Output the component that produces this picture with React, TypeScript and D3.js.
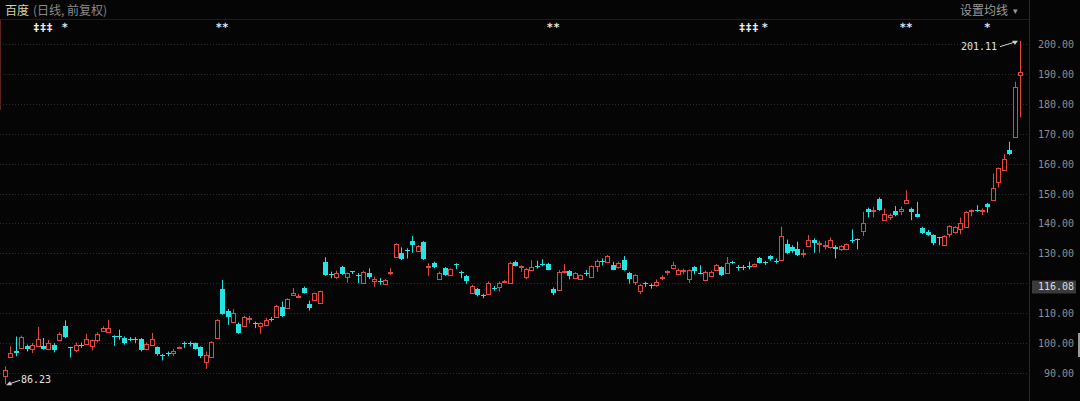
import React from 'react';
import * as d3 from 'd3';

// daily candles (前复权), oldest first
const opens = [
  89.1, 95.2, 97.5, 98.4, 99.0, 98.0, 98.9, 99.1, 98.0, 99.5, 100.9, 105.6, 98.6, 97.8, 99.4, 99.8, 99.1, 101.1, 104.1, 103.7,
  102.4, 102.3, 101.7, 101.5, 101.4, 101.4, 98.0, 99.5, 98.7, 95.9, 96.7, 96.6, 98.4, 100.0, 100.0, 100.0, 98.7, 93.6, 95.4, 101.7,
  118.0, 110.6, 107.1, 106.4, 105.8, 108.2, 106.6, 105.6, 106.0, 108.2, 108.7, 112.0, 111.8, 116.1, 115.8, 118.4, 113.1, 114.5, 113.4, 127.2,
  123.2, 122.2, 125.4, 122.2, 124.0, 122.6, 120.0, 123.4, 120.9, 120.7, 119.8, 123.4, 128.7, 130.0, 131.1, 134.2, 130.9, 133.9, 125.3, 126.9,
  121.4, 125.0, 122.8, 126.3, 123.8, 122.5, 116.7, 118.0, 116.0, 116.5, 118.5, 118.7, 120.5, 120.2, 127.2, 125.5, 122.2, 124.6, 125.7, 126.4,
  126.6, 118.2, 117.9, 123.8, 124.1, 121.6, 121.4, 123.6, 122.1, 125.7, 127.6, 127.2, 126.0, 125.3, 127.7, 123.5, 120.5, 117.5, 120.0, 119.5,
  119.3, 121.8, 123.8, 125.0, 123.0, 124.4, 121.3, 125.3, 123.6, 121.2, 122.4, 124.6, 125.5, 123.5, 127.0, 125.3, 125.3, 125.8, 125.7, 128.6,
  127.0, 129.1, 127.6, 127.7, 133.1, 132.2, 131.6, 129.7, 132.4, 134.4, 133.3, 132.6, 132.0, 132.2, 131.3, 131.3, 134.6, 134.8, 137.5, 145.0,
  144.2, 148.3, 141.1, 142.0, 144.2, 144.2, 146.7, 145.0, 143.3, 138.6, 137.2, 136.1, 135.5, 132.7, 136.4, 137.2, 138.0, 138.9, 144.2, 144.6,
  144.1, 146.6, 147.8, 153.9, 157.8, 164.7, 169.0, 189.8,
];
const highs = [
  92.2, 98.9, 102.2, 102.5, 99.5, 100.0, 105.4, 101.7, 101.1, 100.0, 103.6, 107.6, 98.8, 100.2, 100.2, 103.1, 101.2, 103.6, 105.6, 107.8,
  102.6, 104.5, 102.2, 102.0, 102.0, 101.7, 100.2, 103.4, 98.9, 96.4, 97.2, 98.0, 98.9, 100.5, 100.5, 100.2, 98.9, 97.2, 100.6, 108.0,
  121.1, 111.4, 111.4, 106.9, 109.1, 109.1, 107.2, 106.9, 108.4, 108.7, 112.8, 113.9, 115.0, 118.4, 116.5, 118.9, 114.2, 116.9, 117.5, 128.7,
  123.9, 124.2, 125.8, 123.6, 124.0, 123.4, 124.2, 125.0, 122.2, 121.7, 121.4, 125.0, 133.4, 132.0, 131.7, 135.8, 132.8, 134.1, 126.7, 127.2,
  123.9, 125.4, 125.0, 126.7, 124.2, 122.8, 119.5, 118.4, 116.5, 120.6, 119.1, 120.6, 121.1, 127.2, 127.6, 126.0, 125.2, 127.7, 127.5, 128.0,
  126.8, 118.6, 124.4, 126.4, 124.4, 123.7, 122.9, 124.4, 126.0, 127.9, 128.3, 129.4, 127.2, 127.2, 129.1, 123.8, 123.0, 119.7, 120.5, 119.9,
  121.3, 122.7, 124.4, 127.2, 124.9, 124.9, 124.6, 125.7, 126.0, 124.2, 124.2, 126.4, 125.7, 128.8, 127.5, 126.1, 126.1, 127.2, 126.6, 128.8,
  127.5, 129.4, 128.3, 138.9, 134.6, 132.7, 133.9, 131.3, 136.1, 135.0, 134.2, 134.2, 135.3, 132.7, 132.7, 133.3, 138.0, 135.0, 143.9, 145.3,
  145.6, 148.7, 145.0, 143.3, 145.8, 145.6, 151.1, 145.3, 147.2, 138.9, 137.8, 136.4, 135.5, 136.1, 139.4, 139.1, 142.0, 144.2, 144.7, 146.1,
  145.0, 146.9, 156.7, 158.7, 163.2, 167.3, 187.4, 201.11,
];
const lows = [
  86.23, 95.0, 95.6, 98.0, 97.2, 96.7, 98.7, 97.8, 97.6, 96.9, 100.7, 101.7, 95.2, 96.9, 98.4, 99.5, 97.6, 100.2, 103.8, 103.6,
  99.1, 101.1, 99.5, 100.6, 100.0, 97.2, 97.6, 99.1, 95.8, 94.2, 95.6, 95.6, 98.2, 98.4, 98.9, 97.8, 95.0, 91.4, 95.1, 101.6,
  109.5, 106.1, 106.7, 103.1, 105.6, 106.5, 105.0, 103.1, 105.6, 107.2, 108.4, 108.7, 111.6, 115.8, 115.0, 116.5, 110.9, 114.2, 113.1, 122.5,
  121.7, 121.4, 122.8, 120.2, 123.1, 120.0, 119.8, 121.4, 118.9, 119.5, 119.5, 122.8, 128.5, 127.8, 128.3, 130.2, 130.6, 127.8, 122.5, 125.0,
  121.1, 122.5, 122.5, 124.7, 121.7, 119.8, 116.5, 115.6, 115.0, 116.1, 117.5, 117.2, 120.0, 120.0, 125.6, 123.8, 121.3, 124.4, 124.9, 125.7,
  124.4, 116.0, 117.7, 123.3, 121.3, 121.4, 121.3, 122.4, 121.9, 123.8, 126.0, 126.8, 124.4, 124.9, 124.2, 119.9, 119.4, 116.4, 118.8, 118.2,
  118.8, 121.0, 122.7, 124.6, 122.7, 123.0, 120.1, 123.0, 123.0, 121.0, 122.2, 124.4, 122.4, 123.3, 126.4, 124.2, 124.4, 124.6, 125.5, 126.6,
  126.1, 127.5, 126.6, 127.5, 129.7, 130.2, 129.1, 128.6, 132.2, 130.2, 130.2, 131.3, 131.6, 128.3, 130.8, 131.1, 133.5, 131.3, 135.8, 142.0,
  142.0, 144.2, 140.9, 141.1, 142.4, 142.8, 146.5, 141.1, 142.0, 136.4, 135.8, 132.7, 132.7, 132.4, 135.3, 136.6, 136.4, 138.7, 142.4, 143.9,
  142.8, 143.6, 147.6, 152.0, 157.6, 162.8, 168.8, 175.5,
];
const closes = [
  91.1, 96.7, 96.8, 102.2, 98.1, 99.5, 101.4, 98.0, 100.0, 97.8, 103.1, 102.0, 98.2, 99.5, 99.0, 101.4, 100.9, 103.1, 105.2, 105.0,
  102.0, 102.0, 100.0, 101.2, 101.0, 97.6, 99.8, 101.4, 96.5, 95.6, 96.4, 97.2, 98.7, 99.6, 99.7, 98.0, 95.6, 96.1, 100.2, 107.8,
  109.8, 108.7, 110.0, 103.4, 108.7, 108.4, 106.3, 106.7, 107.6, 107.9, 112.5, 109.1, 114.7, 116.9, 115.9, 116.9, 111.7, 116.7, 117.3, 122.8,
  122.9, 123.6, 123.1, 123.4, 123.7, 122.4, 123.9, 122.0, 121.4, 120.5, 121.1, 123.7, 133.1, 128.0, 130.8, 132.8, 132.5, 128.0, 125.7, 125.3,
  123.6, 122.8, 124.7, 126.0, 123.4, 120.9, 119.1, 116.1, 115.7, 120.2, 118.2, 120.0, 120.8, 126.9, 125.8, 125.7, 124.9, 125.4, 125.3, 126.1,
  124.6, 116.6, 123.8, 124.1, 122.4, 123.5, 122.7, 123.3, 125.7, 127.4, 127.3, 129.1, 124.6, 126.8, 124.4, 121.3, 122.7, 119.4, 119.6, 119.2,
  120.5, 122.0, 124.2, 126.1, 124.6, 124.6, 124.4, 124.2, 123.4, 123.8, 123.8, 126.1, 122.7, 126.8, 126.8, 125.1, 125.1, 125.6, 126.4, 126.8,
  126.8, 128.0, 127.3, 135.7, 130.2, 130.8, 129.4, 130.2, 134.6, 133.3, 133.6, 132.9, 134.6, 131.3, 132.4, 133.1, 134.4, 134.6, 140.2, 143.9,
  144.6, 144.4, 143.1, 142.8, 142.8, 145.0, 147.8, 143.9, 142.2, 136.9, 136.1, 133.3, 135.3, 135.7, 139.1, 138.9, 140.0, 143.9, 144.4, 144.4,
  144.4, 145.4, 151.7, 158.4, 161.4, 163.2, 185.7, 190.7,
];

const yTicks = [90, 100, 110, 120, 130, 140, 150, 160, 170, 180, 190, 200];
const markerIdx = [7, 11, 40, 101, 137, 140, 166, 181];
const markerText = ['‡‡‡', '*', '**', '**', '‡‡‡', '*', '**', '*'];
const tagValue = 116.08;

const W = 1080;
const H = 401;
const plotRight = 1029;
const UP = '#e04a3e';
const DOWN = '#24e4e4';
const BG = '#050505';

export default function App() {
  const n = closes.length;
  const x = d3.scaleLinear().domain([0, n - 1]).range([5, 1020]);
  const y = d3.scaleLinear().domain([90, 200]).range([373, 44]);
  const hiIdx = d3.maxIndex(highs);
  const loIdx = d3.minIndex(lows);
  const tagY = y(tagValue) - 8;

  return (
    <svg width={W} height={H} style={{ position: 'fixed', left: 0, top: 0, background: BG }}>
      <rect width={W} height={H} fill={BG} />
      {/* header */}
      <line x1={0} x2={plotRight} y1={19.5} y2={19.5} stroke="#1e1e1e" />
      <text x={5} y={15} fontSize={12} fill="#d8d2a6" fontFamily="Noto Sans CJK SC">百度</text>
      <text x={33} y={15} fontSize={12} fill="#8a8a8a" fontFamily="Noto Sans CJK SC">(日线, 前复权)</text>
      <text x={1008} y={15} fontSize={12} fill="#9a9a9a" textAnchor="end" fontFamily="Noto Sans CJK SC">设置均线</text>
      <text x={1013} y={14} fontSize={9} fill="#9a9a9a" fontFamily="DejaVu Sans">▾</text>
      <line x1={0.5} x2={0.5} y1={20} y2={110} stroke="#5a2219" />

      {/* grid + axis */}
      {yTicks.map((t) => (
        <g key={t}>
          <line x1={0} x2={plotRight} y1={Math.round(y(t)) + 0.5} y2={Math.round(y(t)) + 0.5}
            stroke="#2c2c2c" strokeDasharray="1,2" />
          {Math.abs(y(t) - tagY) > 10 && (
            <text x={1074} y={y(t) + 4} fontSize={10} fill="#8e8e8e" textAnchor="end"
              fontFamily="DejaVu Sans Mono">{t.toFixed(2)}</text>
          )}
        </g>
      ))}
      <line x1={plotRight + 0.5} x2={plotRight + 0.5} y1={0} y2={H} stroke="#2a2a2a" />
      <rect x={1032} y={tagY - 6.5} width={44} height={13} fill="#3a3a3a" />
      <text x={1074} y={tagY + 3.5} fontSize={10} fill="#dcdcdc" textAnchor="end"
        fontFamily="DejaVu Sans Mono">{tagValue.toFixed(2)}</text>
      <rect x={1078} y={333} width={2} height={24} fill="#9a9a9a" />

      {/* event markers */}
      {markerIdx.map((m, k) => (
        <text key={k} x={x(m)} y={31} fontSize={11} fontWeight="bold" fill="#ececec" textAnchor="middle"
          fontFamily="DejaVu Sans Mono" style={{ textRendering: 'geometricPrecision' }}>{markerText[k]}</text>
      ))}

      {/* candles */}
      {closes.map((c, i) => {
        const o = opens[i];
        const px = Math.round(x(i));
        const cx = px + 0.5;
        const up = c >= o;
        const top = Math.round(y(Math.max(o, c)));
        const bh = Math.max(1, Math.round(y(Math.min(o, c))) - top);
        if (up) {
          return (
            <g key={i} stroke={UP} fill="none">
              <line x1={cx} x2={cx} y1={y(highs[i])} y2={top} />
              <line x1={cx} x2={cx} y1={top + bh} y2={y(lows[i])} />
              <rect x={px - 1.5} y={top + 0.5} width={4} height={bh} fill={BG} />
            </g>
          );
        }
        return (
          <g key={i}>
            <line x1={cx} x2={cx} y1={y(highs[i])} y2={y(lows[i])} stroke={DOWN} />
            <rect x={px - 2} y={top} width={5} height={bh} fill={DOWN} />
          </g>
        );
      })}

      {/* high / low annotations */}
      <line x1={x(hiIdx) - 20} y1={y(highs[hiIdx]) + 6} x2={x(hiIdx) - 4} y2={y(highs[hiIdx]) + 1} stroke="#d0d0d0" />
      <path d={`M${x(hiIdx) - 2},${y(highs[hiIdx])} l-6,0 l3,4 z`} fill="#d0d0d0" />
      <text x={x(hiIdx) - 23} y={y(highs[hiIdx]) + 9} fontSize={10} fill="#e0e0e0" textAnchor="end"
        fontFamily="DejaVu Sans Mono">{highs[hiIdx].toFixed(2)}</text>
      <line x1={x(loIdx) + 15} y1={y(lows[loIdx]) - 4} x2={x(loIdx) + 3} y2={y(lows[loIdx])} stroke="#d0d0d0" />
      <path d={`M${x(loIdx) + 1},${y(lows[loIdx]) + 1} l6,0 l-2,-4 z`} fill="#d0d0d0" />
      <text x={x(loIdx) + 16} y={y(lows[loIdx]) - 1} fontSize={10} fill="#e0e0e0"
        fontFamily="DejaVu Sans Mono">{lows[loIdx].toFixed(2)}</text>
    </svg>
  );
}
